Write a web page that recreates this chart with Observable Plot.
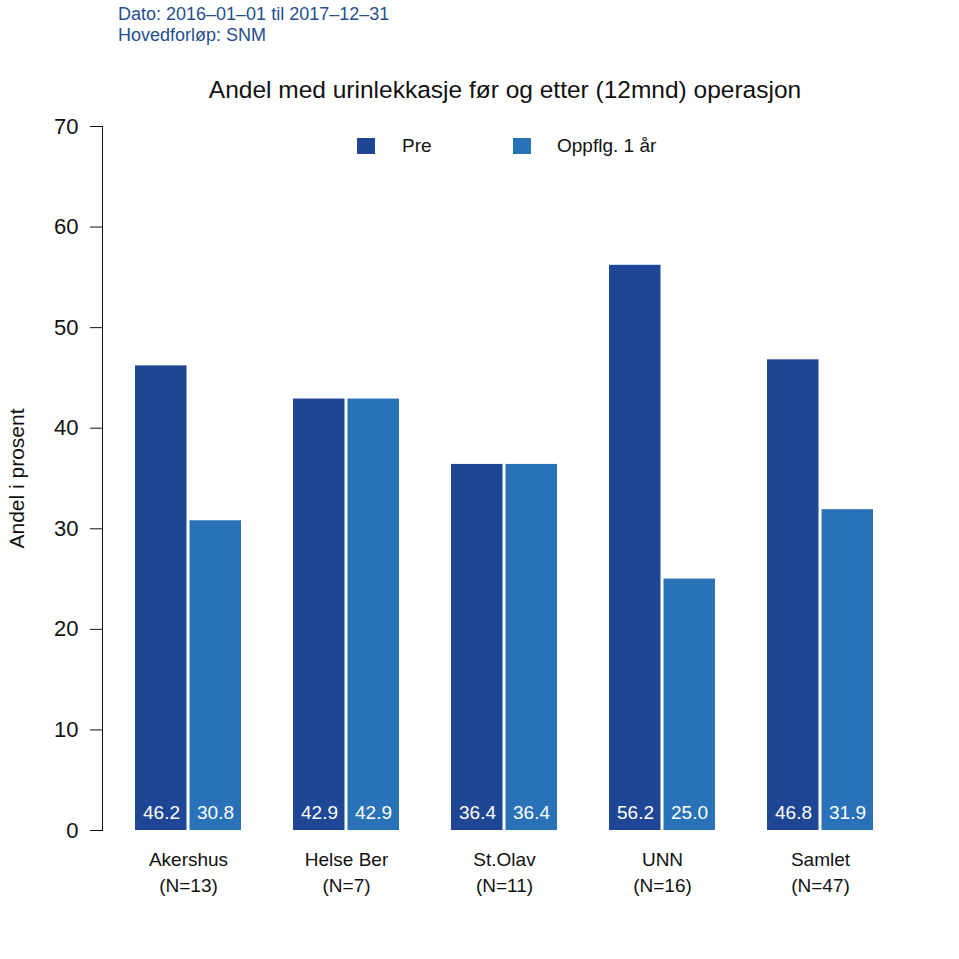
<!DOCTYPE html>
<html>
<head>
<meta charset="utf-8">
<script src="https://cdn.jsdelivr.net/npm/d3@7"></script>
<script src="https://cdn.jsdelivr.net/npm/@observablehq/plot@0.6"></script>
<style>
  body { margin: 0; background: #fff; font-family: "Liberation Sans", Arial, Helvetica, sans-serif; }
  #wrap { position: relative; width: 959px; height: 959px; }
  .hdr { position: absolute; left: 118px; font-size: 18px; color: #23508f; line-height: 21px; }
  #title { position: absolute; left: 0; width: 1010px; text-align: center; top: 75px; font-size: 24.5px; color: #111; line-height: 30px; }
  .lg { position: absolute; font-size: 19px; color: #111; line-height: 22px; }
  .sw { position: absolute; width: 18px; height: 16px; }
</style>
</head>
<body>
<div id="wrap"></div>
<script>
// ---- data ----
const sites = ["Akershus", "Helse Ber", "St.Olav", "UNN", "Samlet"];
const counts = [13, 7, 11, 16, 47];
const series = ["Pre", "Oppflg. 1 år"];
const preValues = [46.2, 42.9, 36.4, 56.2, 46.8];
const postValues = [30.8, 42.9, 36.4, 25.0, 31.9];
const yTicks = [0, 10, 20, 30, 40, 50, 60, 70];
const headerLines = ["Dato: 2016–01–01 til 2017–12–31", "Hovedforløp: SNM"];
const titleText = "Andel med urinlekkasje før og etter (12mnd) operasjon";
const yLabel = "Andel i prosent";
const colors = ["#1f4694", "#2a72b8"];

const preRows = sites.map((s, i) => ({site: s, value: preValues[i]}));
const postRows = sites.map((s, i) => ({site: s, value: postValues[i]}));
const siteLabel = s => s + "\n(N=" + counts[sites.indexOf(s)] + ")";

const chart = Plot.plot({
  width: 959,
  height: 959,
  marginLeft: 102,
  marginRight: 52,
  marginTop: 126,
  marginBottom: 129,
  style: {fontFamily: "'Liberation Sans', Arial, Helvetica, sans-serif", fontSize: "22px", color: "#111", background: "white", overflow: "visible"},
  x: {domain: sites, paddingInner: 0.327, paddingOuter: 0.195, axis: null},
  y: {domain: [0, 70], ticks: yTicks, tickSize: 12, tickPadding: 12, line: true, label: null, tickFormat: d => d},
  marks: [
    Plot.barY(preRows, {x: "site", y: "value", fill: colors[0], insetRight: 54.5}),
    Plot.barY(postRows, {x: "site", y: "value", fill: colors[1], insetLeft: 54.5}),
    Plot.text(preRows, {x: "site", y: 0, text: d => d.value.toFixed(1), dx: -27, dy: -18, fill: "white", fontSize: 19}),
    Plot.text(postRows, {x: "site", y: 0, text: d => d.value.toFixed(1), dx: 27, dy: -18, fill: "white", fontSize: 19}),
    Plot.text(sites, {x: d => d, frameAnchor: "bottom", text: siteLabel, dy: 40.5, lineAnchor: "middle", lineHeight: 1.34, fontSize: 19, fill: "#111"}),
    Plot.text([yLabel], {frameAnchor: "left", text: d => d, rotate: -90, dx: -85, textAnchor: "middle", fontSize: 21, fill: "#111"})
  ]
});

const wrap = document.getElementById("wrap");
wrap.appendChild(chart);

headerLines.forEach((t, i) => {
  const d = document.createElement("div");
  d.className = "hdr";
  d.style.top = (4 + i * 21) + "px";
  d.textContent = t;
  wrap.appendChild(d);
});

const title = document.createElement("div");
title.id = "title";
title.textContent = titleText;
wrap.appendChild(title);

const legendPos = [{sw: 357, tx: 402}, {sw: 513, tx: 557}];
series.forEach((s, i) => {
  const sw = document.createElement("div");
  sw.className = "sw";
  sw.style.left = legendPos[i].sw + "px";
  sw.style.top = "138px";
  sw.style.background = colors[i];
  wrap.appendChild(sw);
  const t = document.createElement("div");
  t.className = "lg";
  t.style.left = legendPos[i].tx + "px";
  t.style.top = "135px";
  t.textContent = s;
  wrap.appendChild(t);
});
</script>
</body>
</html>
